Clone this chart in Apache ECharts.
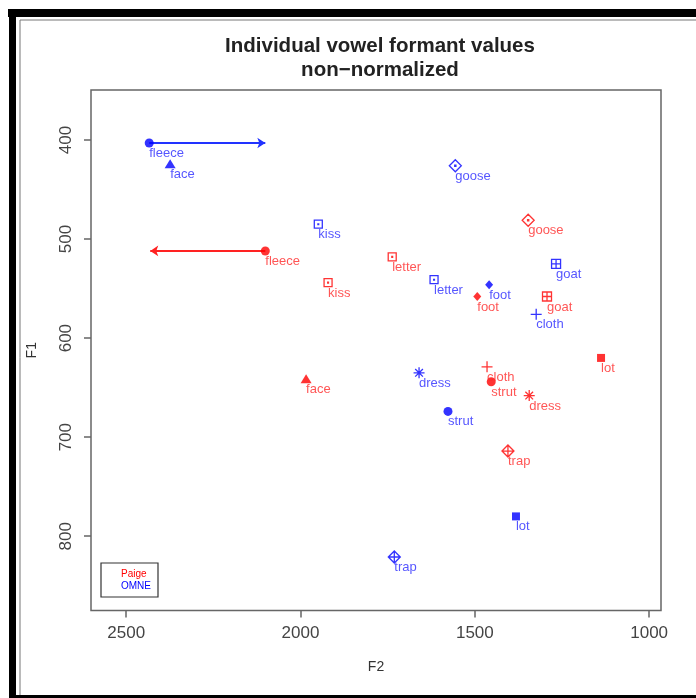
<!DOCTYPE html>
<html>
<head>
<meta charset="utf-8">
<script src="https://cdn.jsdelivr.net/npm/echarts@6.0.0/dist/echarts.min.js"></script>
<style>
html, body { margin: 0; padding: 0; background: #fff; }
#chart { width: 696px; height: 698px; }
</style>
</head>
<body>
<div id="chart"></div>
<script>
// vowel means (Hz)
var vowels  = ['fleece', 'face', 'kiss', 'letter', 'goose', 'foot', 'goat', 'cloth', 'dress', 'strut', 'lot', 'trap'];
var paigeF2 = [2101, 1984, 1921, 1737, 1347, 1493, 1293, 1465, 1344, 1453, 1138, 1405];
var paigeF1 = [512, 641, 544, 518, 481, 558, 558, 629, 658, 644, 620, 714];
var omneF2  = [2434, 2374, 1949, 1617, 1556, 1459, 1267, 1324, 1660, 1577, 1382, 1731];
var omneF1  = [403, 424, 485, 541, 426, 546, 525, 576, 635, 674, 780, 821];
// fleece shift arrows [F2 from, F1 from, F2 to, F1 to]
var omneArrow  = [2434, 403, 2101, 403];
var paigeArrow = [2101, 512, 2431, 512];
var f2Ticks = [2500, 2000, 1500, 1000];
var f1Ticks = [400, 500, 600, 700, 800];

var RED = '#ff0000', BLUE = '#0000ff';
var FONT = '"Liberation Sans", Arial, Helvetica, sans-serif';

// R-like plotting symbols
var SQ_DOT   = 'path://M0,0H20V20H0Z M9,9H11V11H9Z';
var DIA_DOT  = 'path://M10,0L20,10L10,20L0,10Z M9,9H11V11H9Z';
var BOX_PLUS = 'path://M0,0H20V20H0Z M10,0V20 M0,10H20';
var PLUS     = 'path://M10,0V20 M0,10H20';
var STAR     = 'path://M10,0V20 M0,10H20 M3,3L17,17 M17,3L3,17';
var DIA_PLUS = 'path://M10,0L20,10L10,20L0,10Z M10,0V20 M0,10H20';
var shapes = {
    fleece: { symbol: 'circle', size: 9, fill: true },
    face:   { symbol: 'triangle', size: [11, 9], fill: true },
    kiss:   { symbol: SQ_DOT, size: 8 },
    letter: { symbol: SQ_DOT, size: 8 },
    goose:  { symbol: DIA_DOT, size: 12 },
    foot:   { symbol: 'diamond', size: [8, 9], fill: true },
    goat:   { symbol: BOX_PLUS, size: 9 },
    cloth:  { symbol: PLUS, size: 11 },
    dress:  { symbol: STAR, size: 11 },
    strut:  { symbol: 'circle', size: 9, fill: true },
    lot:    { symbol: 'rect', size: 8, fill: true },
    trap:   { symbol: DIA_PLUS, size: 12 }
};

function points(f2, f1, col) {
    return vowels.map(function (v, i) {
        var s = shapes[v];
        return {
            name: v,
            value: [f2[i], f1[i]],
            symbol: s.symbol,
            symbolSize: s.size,
            itemStyle: s.fill
                ? { color: col, borderWidth: 0 }
                : { color: 'transparent', borderColor: col, borderWidth: 1.3 }
        };
    });
}

function speaker(name, f2, f1, col, labelCol) {
    return {
        name: name,
        type: 'scatter',
        z: 3,
        data: points(f2, f1, col),
        label: {
            show: true,
            formatter: '{b}',
            position: 'inside',
            align: 'left',
            verticalAlign: 'middle',
            offset: [0, 10.5],
            fontSize: 13,
            fontFamily: FONT,
            color: labelCol
        },
        emphasis: { disabled: true },
        silent: true
    };
}

function arrow(name, a, col) {
    return {
        name: name,
        type: 'lines',
        coordinateSystem: 'cartesian2d',
        z: 2,
        silent: true,
        symbol: ['none', 'arrow'],
        symbolSize: 8,
        lineStyle: { color: col, width: 1.8, opacity: 1 },
        data: [{ coords: [[a[0], a[1]], [a[2], a[3]]] }]
    };
}

function plain(v) { return String(v); }

var chart = echarts.init(document.getElementById('chart'));
chart.setOption({
    animation: false,
    backgroundColor: '#fff',
    title: {
        text: 'Individual vowel formant values\nnon\u2212normalized',
        left: 375,
        top: 29,
        textAlign: 'center',
        textStyle: { fontSize: 20.5, fontWeight: 'bold', fontFamily: FONT, color: '#222', lineHeight: 24 }
    },
    legend: {
        orient: 'vertical',
        left: 101,
        top: 563,
        itemWidth: 0,
        itemHeight: 0,
        itemGap: 2,
        padding: [6, 7, 6, 15],
        borderColor: '#333',
        borderWidth: 1.2,
        selectedMode: false,
        textStyle: { fontSize: 10, fontFamily: FONT },
        data: [
            { name: 'Paige', textStyle: { color: RED } },
            { name: 'OMNE', textStyle: { color: BLUE } }
        ]
    },
    grid: {
        left: 91, right: 35, top: 90, bottom: 87.5,
        show: true, borderColor: '#666', borderWidth: 1.5,
        backgroundColor: 'transparent',
        outerBoundsMode: 'none'
    },
    xAxis: {
        type: 'value',
        inverse: true,
        min: 966, max: 2601,
        name: 'F2', nameLocation: 'middle', nameGap: 50,
        nameTextStyle: { fontSize: 14, fontFamily: FONT, color: '#333' },
        axisLine: { show: false },
        axisTick: { show: true, length: 7, customValues: f2Ticks, lineStyle: { color: '#666', width: 1.5 } },
        axisLabel: { customValues: f2Ticks, formatter: plain, margin: 14, fontSize: 17, fontFamily: FONT, color: '#444' },
        splitLine: { show: false }
    },
    yAxis: {
        type: 'value',
        inverse: true,
        min: 349.5, max: 875,
        name: 'F1', nameLocation: 'middle', nameGap: 52,
        nameTextStyle: { fontSize: 14, fontFamily: FONT, color: '#333' },
        axisLine: { show: false },
        axisTick: { show: true, length: 7, customValues: f1Ticks, lineStyle: { color: '#666', width: 1.5 } },
        axisLabel: { customValues: f1Ticks, formatter: plain, rotate: 90, margin: 16, fontSize: 17, fontFamily: FONT, color: '#444' },
        splitLine: { show: false }
    },
    graphic: [
        { type: 'rect', silent: true, shape: { x: 8, y: 9, width: 688, height: 8 }, style: { fill: '#000' } },
        { type: 'rect', silent: true, shape: { x: 9, y: 9, width: 7, height: 689 }, style: { fill: '#000' } },
        { type: 'rect', silent: true, shape: { x: 9, y: 695, width: 687, height: 3 }, style: { fill: '#000' } },
        { type: 'line', silent: true, shape: { x1: 20, y1: 20, x2: 20, y2: 695 }, style: { stroke: '#777', lineWidth: 1 } },
        { type: 'line', silent: true, shape: { x1: 20, y1: 20, x2: 696, y2: 20 }, style: { stroke: '#777', lineWidth: 1 } }
    ],
    series: [
        arrow('OMNE fleece shift', omneArrow, '#2233ff'),
        arrow('Paige fleece shift', paigeArrow, '#ff2222'),
        speaker('Paige', paigeF2, paigeF1, RED, '#ff2a2a'),
        speaker('OMNE', omneF2, omneF1, BLUE, '#2a2aff')
    ]
});
</script>
</body>
</html>
